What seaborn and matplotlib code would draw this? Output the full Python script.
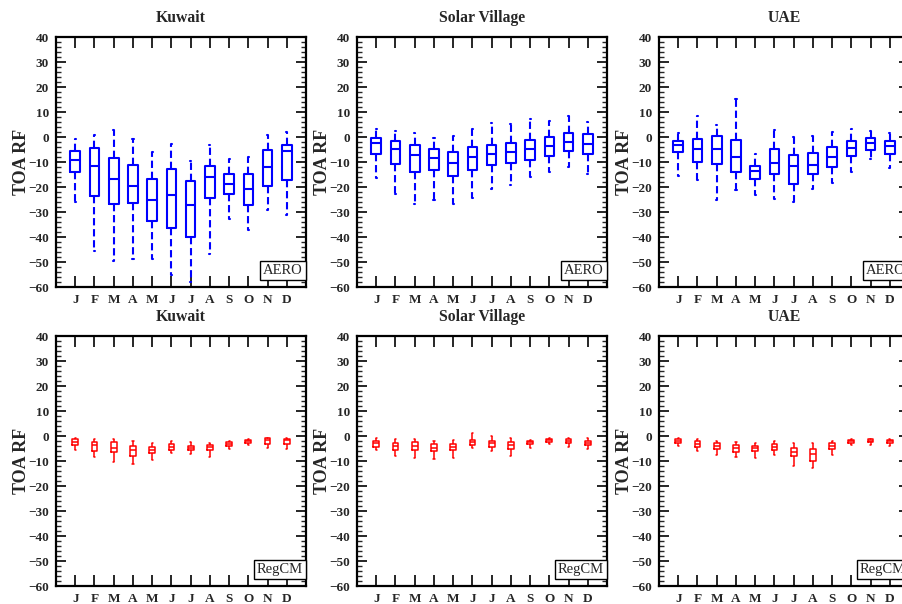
import pandas as pd
import matplotlib
matplotlib.use("Agg")
import matplotlib.pyplot as plt
from matplotlib.ticker import MultipleLocator
import seaborn as sns

MONTHS = ["J", "F", "M", "A", "M", "J", "J", "A", "S", "O", "N", "D"]
SITES = ["Kuwait", "Solar Village", "UAE"]

# AERO, five-number summary per month (whisker low, q1, median, q3, whisker high)
kuw_aero_lo = [-26, -45.7, -49.6, -48.7, -48.7, -55.3, -58, -46.9, -32.7, -37.1, -29.3, -31.3]
kuw_aero_q1 = [-14, -23.6, -26.9, -26.5, -33.7, -36.4, -39.9, -24.3, -22.7, -27.2, -19.7, -17.1]
kuw_aero_md = [-9.1, -11.6, -16.7, -19.5, -25.3, -23.3, -27.2, -16.1, -18.8, -20.8, -12, -5.7]
kuw_aero_q3 = [-5.6, -4.3, -8.3, -11.2, -16.9, -12.8, -17.7, -11.6, -14.7, -14.7, -5.1, -3.2]
kuw_aero_hi = [-0.7, 0.7, 2.9, -0.7, -6, -2.7, -9.5, -3.1, -8.8, -8, 0.7, 2]

sv_aero_lo = [-16.3, -22.9, -26.7, -25.3, -26.7, -24.5, -20.7, -19.3, -16, -14, -12, -14.9]
sv_aero_q1 = [-6.9, -10.9, -14, -13.3, -15.5, -13.3, -11.1, -10.4, -9.1, -7.7, -5.7, -6.7]
sv_aero_md = [-2.3, -4.9, -7.3, -8.4, -10.3, -7.9, -6.7, -6.1, -4.7, -3.6, -2, -2.7]
sv_aero_q3 = [-0.3, -1.6, -3.2, -4.9, -5.9, -4, -3.2, -2.4, -1.3, -0.1, 1.6, 1.1]
sv_aero_hi = [3.3, 2.4, 1.6, -0.4, 0.4, 3.2, 5.5, 5.3, 7.1, 6.5, 8.3, 5.9]

uae_aero_lo = [-15.6, -17.3, -25.3, -21.1, -23.3, -24.9, -26.1, -20.7, -18.3, -14.1, -8.9, -12.5]
uae_aero_q1 = [-6.1, -9.9, -10.8, -13.9, -16.7, -14.9, -18.8, -14.9, -12, -7.6, -5.2, -6.7]
uae_aero_md = [-3.1, -4.9, -4.7, -8, -13.7, -10.4, -11.6, -11.1, -8, -4.4, -2.4, -3.6]
uae_aero_q3 = [-1.6, -0.8, 0.4, -1.3, -11.5, -4.8, -7.1, -6.5, -3.9, -1.6, -0.3, -1.7]
uae_aero_hi = [1.7, 8.4, 4.8, 15.3, -6.9, 2.8, 0.1, 0.4, 2.1, 3.2, 2.3, 1.7]

# RegCM
kuw_reg_lo = [-5.7, -8.3, -10.4, -11.3, -9.6, -6.8, -7.3, -8.5, -5.1, -3.7, -4.9, -5.1]
kuw_reg_q1 = [-3.6, -6, -6.5, -7.9, -6.7, -5.5, -5.7, -5.6, -4, -2.7, -3.1, -3.3]
kuw_reg_md = [-2.3, -3.7, -4.7, -5.6, -5.6, -4.3, -4.8, -4.4, -3.1, -2, -1.7, -1.7]
kuw_reg_q3 = [-1.3, -2.3, -2.4, -4, -4.5, -3.3, -4.1, -3.6, -2.5, -1.5, -0.9, -1.1]
kuw_reg_hi = [-0.7, -1.1, -1.3, -2, -2.7, -2, -2.5, -2.7, -1.9, -1.1, -0.7, -0.7]

sv_reg_lo = [-5.7, -8, -8.7, -9.3, -8.8, -4.8, -6.1, -8, -4.8, -3.3, -4.3, -5.3]
sv_reg_q1 = [-4.3, -5.6, -5.6, -6.1, -5.6, -3.6, -4.3, -5.1, -3.3, -2.4, -2.9, -3.7]
sv_reg_md = [-2.9, -4, -4, -4.7, -4.3, -2.4, -2.9, -3.7, -2.4, -1.6, -2, -2.7]
sv_reg_q3 = [-1.9, -2.7, -2.5, -3.3, -3.2, -1.6, -1.9, -2.4, -2, -1.2, -1.3, -1.9]
sv_reg_hi = [-0.7, -1.3, -1.1, -1.9, -1.7, 1.3, 0, -0.8, -1.5, -0.8, -0.8, -0.8]

uae_reg_lo = [-4, -6, -7.7, -8.4, -8.8, -7.6, -12, -12.9, -7.7, -3.7, -3.5, -4]
uae_reg_q1 = [-2.7, -4.3, -5.3, -6.3, -6.1, -5.6, -8, -10, -5.1, -2.7, -2.4, -2.8]
uae_reg_md = [-1.9, -3.1, -4, -4.9, -4.9, -4.3, -6.4, -7.3, -4, -2.1, -1.9, -2.1]
uae_reg_q3 = [-1.1, -2.1, -2.7, -3.7, -4, -3.2, -4.8, -5.1, -2.9, -1.6, -1.3, -1.5]
uae_reg_hi = [-0.7, -1.3, -1.9, -2.4, -2.7, -2, -2.9, -2.9, -1.9, -1.3, -1.1, -1.1]

AERO = [
    (kuw_aero_lo, kuw_aero_q1, kuw_aero_md, kuw_aero_q3, kuw_aero_hi),
    (sv_aero_lo, sv_aero_q1, sv_aero_md, sv_aero_q3, sv_aero_hi),
    (uae_aero_lo, uae_aero_q1, uae_aero_md, uae_aero_q3, uae_aero_hi),
]
REGCM = [
    (kuw_reg_lo, kuw_reg_q1, kuw_reg_md, kuw_reg_q3, kuw_reg_hi),
    (sv_reg_lo, sv_reg_q1, sv_reg_md, sv_reg_q3, sv_reg_hi),
    (uae_reg_lo, uae_reg_q1, uae_reg_md, uae_reg_q3, uae_reg_hi),
]

sns.set_style("white")
plt.rcParams["font.family"] = ["Liberation Serif", "DejaVu Serif"]
plt.rcParams["font.weight"] = "bold"


def to_frame(stats):
    # five points per month -> quartiles of np.percentile hit the summary exactly
    rows = []
    for stat in stats:
        for m, v in enumerate(stat):
            rows.append({"month": m, "rf": v})
    return pd.DataFrame(rows)


def draw_panel(ax, stats, site, tag, color, width, lw, ls):
    df = to_frame(stats)
    sns.boxplot(data=df, x="month", y="rf", order=list(range(12)), color=color,
                fill=False, width=width, linewidth=lw, whis=(0, 100),
                whiskerprops=dict(linestyle=ls), capwidths=0.06, ax=ax)
    ax.set_xlim(-1, 12)
    ax.set_ylim(-60, 40)
    ax.set_xticks(range(12))
    ax.set_xticklabels(MONTHS)
    ax.yaxis.set_major_locator(MultipleLocator(10))
    ax.yaxis.set_minor_locator(MultipleLocator(2))
    ax.tick_params(axis="x", which="major", direction="in", top=True, bottom=True,
                   length=8, width=1.4, labelsize=9.5, pad=5)
    ax.tick_params(axis="y", which="major", direction="in", left=True, right=True,
                   length=7, width=1.4, labelsize=9.5, pad=5)
    ax.tick_params(axis="y", which="minor", direction="in", left=True, right=True,
                   length=3.5, width=1.0)
    for sp in ax.spines.values():
        sp.set_linewidth(1.6)
        sp.set_color("black")
    ax.set_xlabel("")
    ax.set_ylabel("TOA RF", fontsize=13, fontweight="bold", labelpad=-1)
    ax.set_title(site, fontsize=11.3, fontweight="bold", pad=11)
    ax.text(0.988, 0.04, tag, transform=ax.transAxes, ha="right", va="bottom",
            fontsize=10.5, fontweight="normal",
            bbox=dict(boxstyle="square,pad=0.2", facecolor="white",
                      edgecolor="black", linewidth=1.0))


fig = plt.figure(figsize=(9.02, 6.04), dpi=100)
lefts = [0.0621, 0.3958, 0.7306]
w, h = 0.2772, 0.4139

for i, site in enumerate(SITES):
    ax = fig.add_axes([lefts[i], 0.5248, w, h])
    draw_panel(ax, AERO[i], site, "AERO", "#0000ff", 0.5, 1.5, (0, (3.5, 1.8)))
    ax = fig.add_axes([lefts[i], 0.0298, w, h])
    draw_panel(ax, REGCM[i], site, "RegCM", "#ff0000", 0.3, 1.1, "-")

fig.savefig("out.png", dpi=100)
